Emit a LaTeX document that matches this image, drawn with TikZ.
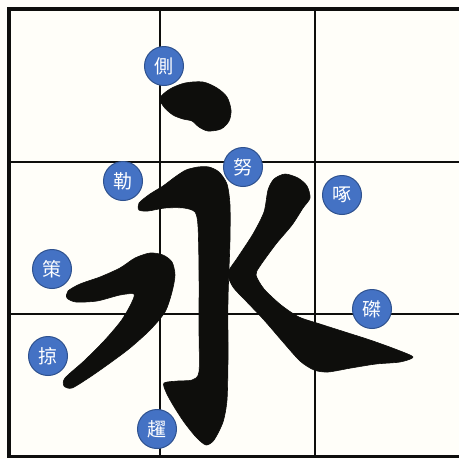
\documentclass[tikz,border=0pt]{standalone}
\usepackage{fontspec}
\newfontfamily\cjk{Noto Sans CJK TC}
\definecolor{paper}{RGB}{255,254,249}
\definecolor{ink}{RGB}{14,14,12}
\definecolor{lblfill}{RGB}{68,114,196}
\definecolor{lbldraw}{RGB}{47,82,143}
\tikzset{
  lbl/.style={circle, fill=lblfill, draw=lbldraw, line width=1pt, minimum size=39pt, inner sep=0pt,
    text=white, font=\cjk\fontsize{19}{19}\selectfont},
  gridline/.style={line width=2pt, draw=ink},
  frameline/.style={line width=3.4pt, draw=ink},
  brush/.style={fill=ink, draw=ink, line width=0.6pt}
}
\begin{document}
\begin{tikzpicture}[x=1pt,y=-1pt]
\fill[paper] (0,0) rectangle (459,459);
\useasboundingbox (0,0) rectangle (459,459);
% grid
\draw[gridline] (159.5,9) -- (159.5,457);
\draw[gridline] (315,9) -- (315,457);
\draw[gridline] (9,162) -- (470,162);
\draw[gridline] (9,314) -- (470,314);
\draw[frameline] (470,9) -- (9,9) -- (9,456.5) -- (470,456.5);
% strokes
% ce (dot)
\fill[brush] plot[smooth cycle, tension=0.5] coordinates {
 (160,98) (170,89) (185,83) (203,82) (217,88) (227,97) (231,110) (229,121)
 (221,129) (208,131) (199,127) (192,121) (183,119) (173,115) (164,107)};
% le + nu + ti
\fill[brush] plot[smooth cycle, tension=0.45] coordinates {
 (139,203) (150,194) (163,186) (175,177) (186,170) (198,167) (209,167) (219,172)
 (227,184) (230,205) (230,240) (228,300) (228,360) (227,400) (223,422) (214,440)
 (206,445) (196,437) (184,422) (173,405) (166,392) (164,383) (178,381) (192,380)
 (199,372) (199,330) (199,270) (198,226) (195,212) (184,208) (165,208) (148,211) (139,210)};
% zhuo + zhe
\fill[brush] plot[smooth cycle, tension=0.45] coordinates {
 (268,190) (274,179) (285,174) (298,178) (307,186) (310,198) (303,208) (292,225)
 (276,244) (260,266) (256,275) (264,289) (281,305) (299,317) (320,324) (345,332)
 (370,340) (395,349) (413,357) (400,362) (376,364) (351,368) (328,372) (314,370)
 (300,361) (283,342) (264,320) (246,301) (233,287) (228,273) (238,257) (253,234) (264,212)};
% ce (bar) + lue
\fill[brush] plot[smooth cycle, tension=0.45] coordinates {
 (68,291) (80,284) (100,277) (120,268) (135,258) (150,253) (163,255) (172,262)
 (175,275) (172,292) (165,312) (150,330) (130,348) (110,363) (90,377) (72,388)
 (64,386) (65,378) (84,361) (104,341) (121,321) (131,304) (134,294) (120,295)
 (97,301) (76,302) (67,298)};
% labels
\node[lbl] (ce1) at (164,66) {側};
\node[lbl] (nu) at (243,167) {努};
\node[lbl] (le) at (123,181) {勒};
\node[lbl] (zhuo) at (342,195) {啄};
\node[lbl] (ce2) at (52,269) {策};
\node[lbl] (zhe) at (372,309) {磔};
\node[lbl] (lue) at (48,356) {掠};
\node[lbl] (ti) at (157,429) {趯};
\end{tikzpicture}
\end{document}
